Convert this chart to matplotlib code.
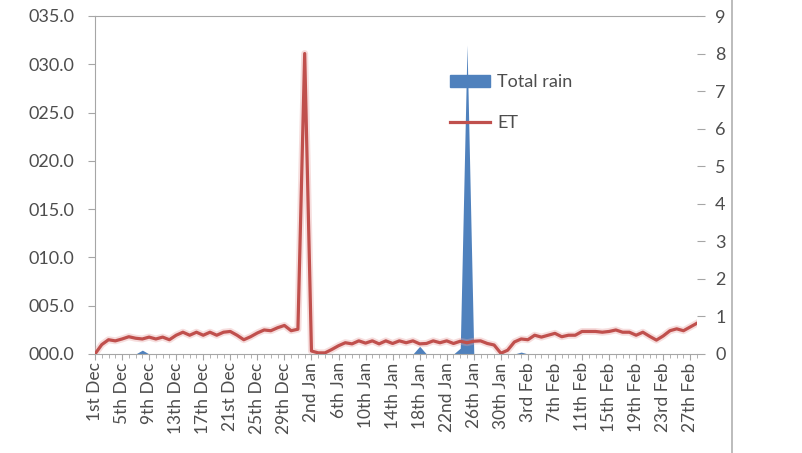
import numpy as np
import matplotlib
matplotlib.use("Agg")
import matplotlib.pyplot as plt
from matplotlib.lines import Line2D

plt.rcParams['font.family'] = ['Lato', 'DejaVu Sans']

# daily values, 1st Dec .. 28th Feb (90 days)
rain_days = [7, 48, 54, 55, 63]
rain_vals = [0.4, 0.8, 0.6, 32.0, 0.2]

et = [0.00, 0.25, 0.38, 0.35, 0.40, 0.46, 0.42, 0.40, 0.45, 0.40,
      0.45, 0.38, 0.50, 0.58, 0.50, 0.58, 0.50, 0.58, 0.50, 0.58,
      0.60, 0.50, 0.38, 0.46, 0.56, 0.64, 0.62, 0.70, 0.76, 0.62,
      0.66, 8.00, 0.08, 0.03, 0.03, 0.12, 0.22, 0.30, 0.27, 0.35,
      0.29, 0.35, 0.27, 0.35, 0.28, 0.35, 0.30, 0.35, 0.27, 0.28,
      0.35, 0.30, 0.35, 0.28, 0.34, 0.30, 0.34, 0.35, 0.28, 0.24,
      0.02, 0.10, 0.32, 0.40, 0.38, 0.50, 0.45, 0.50, 0.55, 0.46,
      0.50, 0.50, 0.60, 0.60, 0.60, 0.58, 0.60, 0.64, 0.58, 0.58,
      0.50, 0.58, 0.47, 0.37, 0.48, 0.62, 0.67, 0.62, 0.72, 0.82]

tick_labels = ['1st Dec', '5th Dec', '9th Dec', '13th Dec', '17th Dec', '21st Dec',
               '25th Dec', '29th Dec', '2nd Jan', '6th Jan', '10th Jan', '14th Jan',
               '18th Jan', '22nd Jan', '26th Jan', '30th Jan', '3rd Feb', '7th Feb',
               '11th Feb', '15th Feb', '19th Feb', '23rd Feb', '27th Feb']

days = np.arange(len(et))
rain = np.zeros(len(et))
rain[rain_days] = rain_vals

grey = '#4d4d4d'
axis_col = '#a6a6a6'

fig = plt.figure(figsize=(8.03, 4.53), dpi=100)
ax = fig.add_axes([95/803, 1-354/453, (697-95)/803, (354-16)/453])
ax.fill_between(days, 0, rain, color='#4f81bd', lw=0)
ax.set_xlim(0, len(et)-1)
ax.set_ylim(0, 35)
ax.set_yticks(np.arange(0, 36, 5))
ax.set_yticklabels(['%05.1f' % v for v in np.arange(0, 36, 5)])
ax.set_xticks(days[::4])
ax.set_xticklabels(tick_labels, rotation=90)
ax.set_xticks(days, minor=True)
ax.tick_params(axis='x', which='major', length=4, color=axis_col, labelsize=12.5, labelcolor=grey, pad=2)
ax.tick_params(axis='x', which='minor', length=3, color=axis_col)
ax.tick_params(axis='y', length=5, color=axis_col, labelsize=13, labelcolor=grey, pad=10)
for s in ['left', 'bottom', 'top']:
    ax.spines[s].set_color(axis_col)
ax.spines['right'].set_visible(False)

ax2 = ax.twinx()
ax2.plot(days, et, color='#e6a09e', lw=5, alpha=0.35, solid_joinstyle='round')
ax2.plot(days, et, color='#c0504d', lw=2.3, solid_joinstyle='round')
ax2.set_ylim(0, 9)
ax2.set_yticks(range(10))
ax2.tick_params(axis='y', length=6, color=axis_col, labelsize=13, labelcolor=grey, pad=7)
for s in ['left', 'bottom', 'top', 'right']:
    ax2.spines[s].set_visible(False)

handles = [plt.Rectangle((0, 0), 1, 1, color='#4f81bd'),
           Line2D([], [], color='#c0504d', lw=2.3)]
ax2.legend(handles, ['Total rain', 'ET'], loc='upper left', bbox_to_anchor=(0.59, 0.828),
           frameon=False, fontsize=13, labelcolor=grey, handlelength=2.2,
           handleheight=0.67, labelspacing=1.4, handletextpad=0.4,
           borderpad=0, borderaxespad=0)

fig.add_artist(Line2D([732/803, 732/803], [0, 1], color='#b0b0b0', lw=1.2))

fig.savefig('out.png')
